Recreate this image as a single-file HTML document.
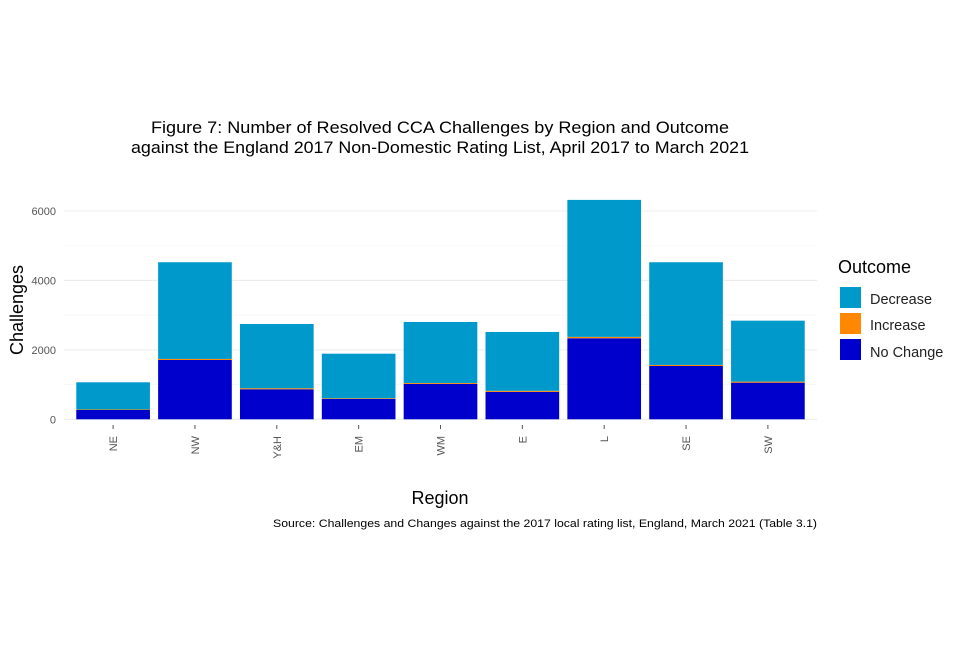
<!DOCTYPE html>
<html><head><meta charset="utf-8"><style>
body{margin:0;background:#fff;font-family:"Liberation Sans",sans-serif}
</style></head><body>
<svg width="960" height="640" font-family="Liberation Sans, sans-serif">
<g id="grid"></g>
<g id="bars"></g>
<g id="axes"></g>
<text x="440" y="133" text-anchor="middle" font-size="17" textLength="578" lengthAdjust="spacingAndGlyphs" fill="#000">Figure 7: Number of Resolved CCA Challenges by Region and Outcome</text>
<text x="440" y="153" text-anchor="middle" font-size="17" textLength="618" lengthAdjust="spacingAndGlyphs" fill="#000">against the England 2017 Non-Domestic Rating List, April 2017 to March 2021</text>
<text transform="translate(23,310) rotate(-90)" text-anchor="middle" font-size="18">Challenges</text>
<text x="440" y="504" text-anchor="middle" font-size="18">Region</text>
<text x="817" y="527" text-anchor="end" font-size="11" textLength="544" lengthAdjust="spacingAndGlyphs">Source: Challenges and Changes against the 2017 local rating list, England, March 2021 (Table 3.1)</text>
<g>
<text x="838" y="273" font-size="18">Outcome</text>
<rect x="840" y="287" width="21" height="21" fill="#0099cc"/>
<text x="870" y="304" font-size="14.5" fill="#222">Decrease</text>
<rect x="840" y="313" width="21" height="21" fill="#ff8800"/>
<text x="870" y="330" font-size="14.5" fill="#222">Increase</text>
<rect x="840" y="339" width="21" height="21" fill="#0000cc"/>
<text x="870" y="357" font-size="14.5" fill="#222">No Change</text>
</g>
</svg>
<script>
const categories=["NE","NW","Y&H","EM","WM","E","L","SE","SW"];
const noChange=[268,1709,865,585,1020,790,2334,1536,1055];
const increase=[15,30,30,20,25,30,40,30,30];
const decrease=[783,2785,1851,1285,1759,1696,3946,2958,1756];
const yTicks=[0,2000,4000,6000];
const ns="http://www.w3.org/2000/svg";
const X0=64,X1=817,Y0=419.3,PER=208.3/6000;
const step=(X1-X0)/(categories.length+0.2);
function xc(i){return X0+step*(0.6+i);}
function y(v){return Y0-v*PER;}
const grid=document.getElementById('grid'),bars=document.getElementById('bars'),axes=document.getElementById('axes');
function mk(tag,attrs,parent){const e=document.createElementNS(ns,tag);for(const k in attrs)e.setAttribute(k,attrs[k]);parent.appendChild(e);return e;}
for(let v=0;v<=6000;v+=1000){
  const g=mk('line',{x1:X0,x2:X1,y1:y(v),y2:y(v),stroke:v%2000?'#f6f6f6':'#ececec','stroke-width':v%2000?0.8:1.1},grid);
  
  
}
yTicks.forEach(v=>{
  const t=mk('text',{x:56,y:y(v)+4,'text-anchor':'end','font-size':11,fill:'#555'},axes);
  t.textContent=v;
  
  
});
const bw=step*0.9;
categories.forEach((c,i)=>{
  const x=xc(i)-bw/2;
  let base=0;
  [[noChange[i],'#0000cc','no-change'],[increase[i],'#ff8800','increase'],[decrease[i],'#0099cc','decrease']].forEach(([v,col,nm])=>{
    const r=mk('rect',{x:x,y:y(base+v),width:bw,height:v*PER,fill:col},bars);
    
    
    base+=v;
  });
  mk('line',{x1:xc(i),x2:xc(i),y1:425,y2:429,stroke:'#555'},axes);
  const t=mk('text',{transform:`translate(${xc(i)+4},${436}) rotate(-90)`,'text-anchor':'end','font-size':11,fill:'#555'},axes);
  t.textContent=c;
  
  
});
</script>
</body></html>
